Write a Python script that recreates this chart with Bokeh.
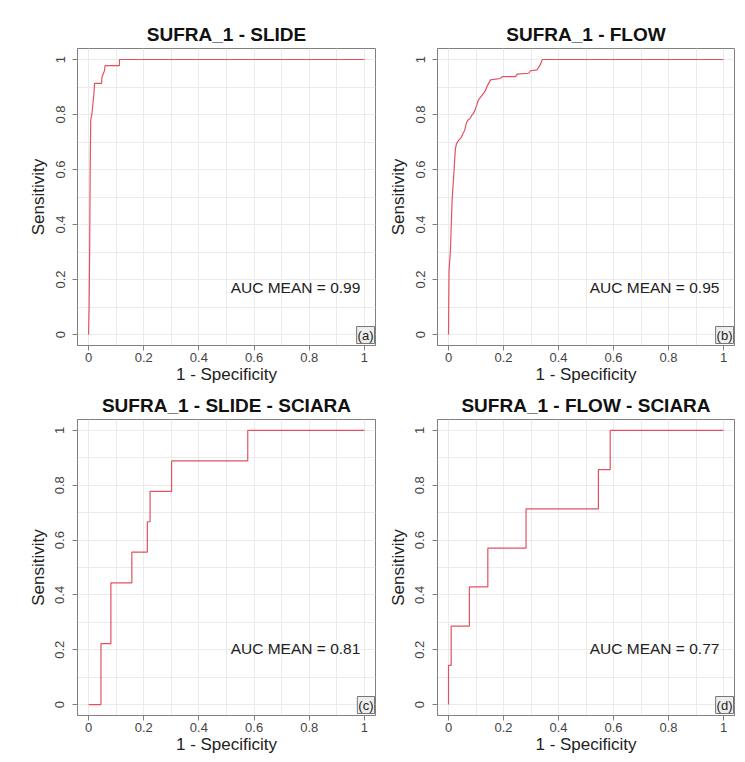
from bokeh.plotting import figure
from bokeh.layouts import column, row
from bokeh.models import FixedTicker, Label, Range1d
from bokeh.embed import file_html
from bokeh.resources import INLINE

# ---------------- data ----------------
titles = ["SUFRA_1 - SLIDE", "SUFRA_1 - FLOW",
          "SUFRA_1 - SLIDE - SCIARA", "SUFRA_1 - FLOW - SCIARA"]
auc_labels = ["AUC MEAN = 0.99", "AUC MEAN = 0.95",
              "AUC MEAN = 0.81", "AUC MEAN = 0.77"]
panel_tags = ["(a)", "(b)", "(c)", "(d)"]

tick_values = [0, 0.2, 0.4, 0.6, 0.8, 1]
tick_labels = ["0", "0.2", "0.4", "0.6", "0.8", "1"]
grid_values = [0, 0.1, 0.2, 0.3, 0.4, 0.5, 0.6, 0.7, 0.8, 0.9, 1.0]

# (a) SUFRA_1 - SLIDE : 1 - specificity / sensitivity
fpr_slide = [0, 0.002, 0.004, 0.006, 0.008, 0.012, 0.016, 0.019, 0.022,
             0.047, 0.049, 0.058, 0.060, 0.112, 0.112, 1.0]
tpr_slide = [0, 0.10, 0.30, 0.60, 0.78, 0.80, 0.84, 0.87, 0.913,
             0.913, 0.937, 0.96, 0.978, 0.978, 1.0, 1.0]

# (b) SUFRA_1 - FLOW
fpr_flow = [0, 0.001, 0.002, 0.007, 0.013, 0.021, 0.025, 0.029, 0.036,
            0.047, 0.052, 0.059, 0.064, 0.069, 0.079, 0.084, 0.091, 0.096,
            0.103, 0.108, 0.116, 0.132, 0.141, 0.153, 0.189, 0.195, 0.244,
            0.250, 0.292, 0.298, 0.322, 0.335, 0.341, 1.0]
tpr_flow = [0, 0.124, 0.233, 0.305, 0.487, 0.608, 0.675, 0.693, 0.705,
            0.717, 0.730, 0.742, 0.765, 0.778, 0.786, 0.796, 0.805, 0.815,
            0.835, 0.851, 0.862, 0.883, 0.904, 0.926, 0.931, 0.938, 0.938,
            0.947, 0.950, 0.959, 0.962, 0.983, 1.0, 1.0]

# (c) SUFRA_1 - SLIDE - SCIARA (ROC points, stepped)
fpr_slide_sc = [0, 0.045, 0.081, 0.157, 0.213, 0.223, 0.301, 0.577, 1.0]
tpr_slide_sc = [0, 0.222, 0.444, 0.556, 0.667, 0.778, 0.889, 1.0, 1.0]

# (d) SUFRA_1 - FLOW - SCIARA (ROC points, stepped)
fpr_flow_sc = [0, 0, 0.0097, 0.076, 0.143, 0.282, 0.545, 0.588, 1.0]
tpr_flow_sc = [0, 0.143, 0.286, 0.429, 0.571, 0.714, 0.857, 1.0, 1.0]

auc_y = [0.17, 0.17, 0.204, 0.204]

FONT = "Liberation Sans"
RED = "#e2525f"
GRAY = "#808080"


def make(i, fpr, tpr, stepped, w, h, bl, br, bt, bb):
    p = figure(width=w, height=h, x_range=Range1d(-0.04, 1.04),
               y_range=Range1d(-0.04, 1.04), output_backend="svg",
               toolbar_location=None, title=titles[i],
               min_border_left=bl, min_border_right=br,
               min_border_top=bt, min_border_bottom=bb)
    p.title.align = "center"
    p.title.text_font = FONT
    p.title.text_font_size = "19px"
    p.title.text_font_style = "bold"
    p.title.text_color = "#111111"
    p.title.standoff = 8

    overrides = {v: l for v, l in zip(tick_values, tick_labels)}
    for ax in (p.xaxis[0], p.yaxis[0]):
        ax.ticker = FixedTicker(ticks=tick_values)
        ax.major_label_overrides = overrides
        ax.minor_tick_line_color = None
        ax.major_tick_in = 0
        ax.major_tick_out = 5
        ax.axis_line_color = GRAY
        ax.major_tick_line_color = GRAY
        ax.major_label_text_font = FONT
        ax.major_label_text_font_size = "13px"
        ax.major_label_text_color = "#444444"
        ax.axis_label_text_font = FONT
        ax.axis_label_text_font_size = "17px"
        ax.axis_label_text_font_style = "normal"
        ax.axis_label_text_color = "#222222"
    p.xaxis.axis_label = "1 - Specificity"
    p.yaxis.axis_label = "Sensitivity"
    p.xaxis.major_label_standoff = 2
    p.xaxis.axis_label_standoff = 0
    p.yaxis.major_label_standoff = 8
    p.yaxis.axis_label_standoff = 5
    p.yaxis.major_label_orientation = "vertical"

    p.xgrid.ticker = FixedTicker(ticks=grid_values)
    p.ygrid.ticker = FixedTicker(ticks=grid_values)
    p.grid.grid_line_color = "#ebebeb"
    p.outline_line_color = GRAY
    p.outline_line_width = 1

    if stepped:
        p.step(fpr, tpr, mode="after", line_color=RED, line_width=1.2)
    else:
        p.line(fpr, tpr, line_color=RED, line_width=1.2)

    p.add_layout(Label(x=0.985, y=auc_y[i], text=auc_labels[i],
                       text_align="right", text_baseline="middle",
                       text_font=FONT, text_font_size="15.5px",
                       text_color="#222222"))
    p.add_layout(Label(x=1.04, y=-0.04, x_offset=-1, y_offset=2,
                       text=panel_tags[i], text_align="right",
                       text_baseline="bottom", text_font=FONT,
                       text_font_size="13px", text_color="#222222",
                       background_fill_color="#eeeeee",
                       border_line_color="#777777", padding=1))
    return p


pa = make(0, fpr_slide, tpr_slide, False, 385, 388, 77, 10, 48, 43)
pb = make(1, fpr_flow, tpr_flow, False, 360, 388, 50, 11, 48, 43)
pc = make(2, fpr_slide_sc, tpr_slide_sc, True, 385, 373, 77, 10, 30, 46)
pd = make(3, fpr_flow_sc, tpr_flow_sc, True, 360, 373, 50, 11, 30, 46)

layout = column(row(pa, pb), row(pc, pd))
open("out.html", "w").write(file_html(layout, INLINE))
